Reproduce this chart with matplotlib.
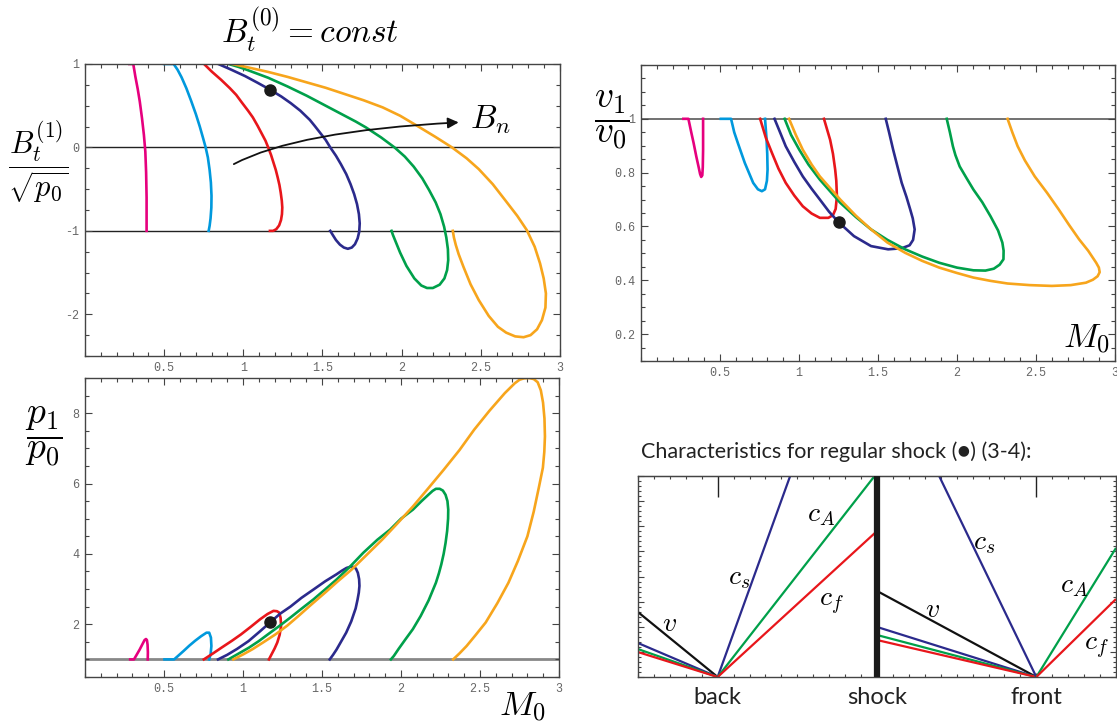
import matplotlib
matplotlib.use('Agg')
import matplotlib.pyplot as plt
from matplotlib.ticker import MultipleLocator, FixedLocator, FixedFormatter, NullFormatter

plt.rcParams['mathtext.fontset'] = 'cm'
plt.rcParams['axes.unicode_minus'] = False

# ---------------- colours of the six curves ----------------
curve_names = ['magenta', 'lightblue', 'red', 'navy', 'green', 'orange']
curve_colors = ['#e6007e', '#0099dd', '#e8161b', '#2b2a8c', '#00a04a', '#f7a51c']

# ---------------- panel 1 : B_t^(1)/sqrt(p0) vs M0 ----------------
bt_magenta = [(0.28, 1.0), (0.305, 1.0), (0.318, 0.85), (0.333, 0.7), (0.346, 0.55), (0.360, 0.35),
              (0.372, 0.15), (0.381, -0.05), (0.386, -0.3), (0.389, -0.6), (0.389, -1.0)]
bt_lightblue = [(0.50, 1.0), (0.56, 1.0), (0.585, 0.93), (0.61, 0.84), (0.64, 0.71), (0.67, 0.56),
                (0.70, 0.40), (0.725, 0.25), (0.746, 0.11), (0.762, 0.0), (0.776, -0.12),
                (0.787, -0.27), (0.795, -0.42), (0.799, -0.58), (0.798, -0.72), (0.793, -0.85),
                (0.787, -0.94), (0.781, -1.0)]
bt_red = [(0.752, 1.0), (0.80, 0.91), (0.86, 0.81), (0.915, 0.71), (0.955, 0.63), (0.99, 0.54),
          (1.03, 0.44), (1.06, 0.36), (1.09, 0.26), (1.115, 0.17), (1.14, 0.08), (1.157, 0.0),
          (1.175, -0.09), (1.19, -0.18), (1.205, -0.27), (1.217, -0.36), (1.228, -0.45),
          (1.236, -0.54), (1.243, -0.64), (1.246, -0.72), (1.244, -0.80), (1.238, -0.87),
          (1.226, -0.935), (1.208, -0.98), (1.188, -1.0), (1.168, -1.0)]
bt_navy = [(0.842, 1.0), (0.92, 0.935), (1.011, 0.855), (1.09, 0.775), (1.171, 0.69), (1.24, 0.61),
           (1.30, 0.53), (1.36, 0.44), (1.42, 0.33), (1.45, 0.26), (1.483, 0.18), (1.52, 0.09),
           (1.549, 0.0), (1.585, -0.10), (1.616, -0.20), (1.65, -0.32), (1.677, -0.44),
           (1.70, -0.56), (1.718, -0.68), (1.73, -0.80), (1.735, -0.91), (1.732, -1.01),
           (1.722, -1.09), (1.705, -1.16), (1.685, -1.20), (1.66, -1.215), (1.635, -1.20),
           (1.61, -1.165), (1.585, -1.11), (1.565, -1.05), (1.549, -1.0)]
bt_green = [(0.907, 1.0), (0.97, 0.965), (1.03, 0.925), (1.157, 0.835), (1.28, 0.73), (1.40, 0.62),
            (1.52, 0.50), (1.64, 0.38), (1.71, 0.31), (1.774, 0.24), (1.87, 0.12), (1.955, 0.0),
            (2.02, -0.11), (2.076, -0.23), (2.13, -0.37), (2.173, -0.51), (2.215, -0.66),
            (2.245, -0.80), (2.268, -0.95), (2.282, -1.08), (2.292, -1.22), (2.294, -1.35),
            (2.287, -1.47), (2.27, -1.57), (2.24, -1.645), (2.197, -1.685), (2.16, -1.685),
            (2.124, -1.655), (2.08, -1.57), (2.03, -1.42), (1.99, -1.26), (1.96, -1.12),
            (1.945, -1.05), (1.936, -1.0)]
bt_orange = [(0.93, 1.0), (1.04, 0.955), (1.157, 0.905), (1.28, 0.845), (1.40, 0.78), (1.52, 0.715),
             (1.64, 0.64), (1.76, 0.565), (1.88, 0.48), (1.99, 0.38), (2.088, 0.27), (2.21, 0.13),
             (2.318, 0.0), (2.41, -0.13), (2.487, -0.26), (2.575, -0.44), (2.657, -0.64),
             (2.73, -0.82), (2.79, -0.99), (2.84, -1.19), (2.874, -1.39), (2.897, -1.57),
             (2.911, -1.75), (2.908, -1.92), (2.886, -2.07), (2.855, -2.18), (2.814, -2.25),
             (2.77, -2.275), (2.717, -2.265), (2.66, -2.22), (2.608, -2.15), (2.55, -2.02),
             (2.487, -1.83), (2.435, -1.64), (2.39, -1.43), (2.36, -1.28), (2.342, -1.17),
             (2.33, -1.08), (2.323, -1.0)]
bt_curves = [bt_magenta, bt_lightblue, bt_red, bt_navy, bt_green, bt_orange]
bt_hlines = [0, -1]
bt_dot = (1.171, 0.69)

# ---------------- panel 2 : v1/v0 vs M0 ----------------
v_magenta = [(0.268, 1.0), (0.30, 1.0), (0.318, 0.95), (0.333, 0.91), (0.350, 0.86), (0.365, 0.82),
             (0.374, 0.795), (0.381, 0.784), (0.388, 0.79), (0.391, 0.82), (0.393, 0.885), (0.393, 1.0)]
v_lightblue = [(0.505, 1.0), (0.57, 1.0), (0.59, 0.95), (0.613, 0.91), (0.657, 0.836), (0.71, 0.762),
               (0.74, 0.738), (0.765, 0.731), (0.785, 0.738), (0.797, 0.77), (0.801, 0.811),
               (0.799, 0.87), (0.794, 0.93), (0.785, 1.0)]
v_red = [(0.754, 1.0), (0.79, 0.93), (0.829, 0.873), (0.87, 0.815), (0.916, 0.762), (0.97, 0.715),
         (1.024, 0.675), (1.08, 0.648), (1.132, 0.632), (1.186, 0.632), (1.215, 0.642),
         (1.232, 0.665), (1.24, 0.712), (1.236, 0.77), (1.229, 0.811), (1.215, 0.87),
         (1.197, 0.922), (1.158, 1.0)]
v_navy = [(0.845, 1.0), (0.88, 0.95), (0.916, 0.898), (0.97, 0.84), (1.024, 0.786), (1.08, 0.74),
          (1.132, 0.70), (1.19, 0.655), (1.25, 0.616), (1.348, 0.564), (1.456, 0.527),
          (1.564, 0.515), (1.65, 0.519), (1.70, 0.53), (1.722, 0.55), (1.732, 0.589), (1.72, 0.63),
          (1.704, 0.663), (1.68, 0.71), (1.65, 0.762), (1.62, 0.83), (1.596, 0.885), (1.57, 0.95),
          (1.549, 1.0)]
v_green = [(0.909, 1.0), (0.95, 0.94), (1.002, 0.885), (1.06, 0.83), (1.132, 0.774), (1.261, 0.688),
           (1.36, 0.635), (1.456, 0.589), (1.56, 0.55), (1.672, 0.515), (1.78, 0.488), (1.888, 0.465),
           (2.0, 0.447), (2.104, 0.437), (2.18, 0.436), (2.233, 0.443), (2.27, 0.458), (2.294, 0.478),
           (2.295, 0.51), (2.287, 0.54), (2.26, 0.585), (2.212, 0.638), (2.16, 0.69), (2.104, 0.737),
           (2.06, 0.78), (2.017, 0.823), (1.99, 0.865), (1.974, 0.898), (1.955, 0.95), (1.935, 1.0)]
v_orange = [(0.937, 1.0), (0.98, 0.94), (1.024, 0.885), (1.08, 0.83), (1.132, 0.786), (1.261, 0.70),
            (1.36, 0.64), (1.456, 0.589), (1.56, 0.54), (1.672, 0.502), (1.78, 0.472), (1.888, 0.447),
            (2.0, 0.427), (2.104, 0.41), (2.21, 0.398), (2.32, 0.388), (2.46, 0.382), (2.60, 0.379),
            (2.72, 0.382), (2.816, 0.391), (2.86, 0.402), (2.89, 0.415), (2.903, 0.43), (2.898, 0.447),
            (2.881, 0.465), (2.83, 0.51), (2.773, 0.552), (2.71, 0.605), (2.644, 0.663), (2.57, 0.725),
            (2.492, 0.786), (2.43, 0.845), (2.384, 0.898), (2.35, 0.95), (2.32, 1.0)]
v_curves = [v_magenta, v_lightblue, v_red, v_navy, v_green, v_orange]
v_hline = 1.0
v_dot = (1.25, 0.616)

# ---------------- panel 3 : p1/p0 vs M0 ----------------
p_magenta = [(0.286, 1.0), (0.31, 1.0), (0.328, 1.14), (0.346, 1.28), (0.362, 1.42), (0.377, 1.55),
             (0.386, 1.58), (0.392, 1.55), (0.396, 1.42), (0.398, 1.2), (0.397, 1.0)]
p_lightblue = [(0.503, 1.0), (0.564, 1.0), (0.594, 1.12), (0.624, 1.24), (0.66, 1.39), (0.697, 1.53),
               (0.735, 1.66), (0.769, 1.76), (0.786, 1.76), (0.797, 1.62), (0.80, 1.38),
               (0.795, 1.15), (0.786, 1.0)]
p_red = [(0.752, 1.0), (0.81, 1.17), (0.866, 1.34), (0.93, 1.53), (0.987, 1.71), (1.05, 1.93),
         (1.108, 2.14), (1.155, 2.29), (1.193, 2.38), (1.215, 2.37), (1.229, 2.33), (1.238, 2.18),
         (1.241, 1.95), (1.232, 1.70), (1.217, 1.48), (1.2, 1.31), (1.186, 1.19), (1.164, 1.0)]
p_navy = [(0.842, 1.0), (0.90, 1.13), (0.963, 1.30), (1.035, 1.52), (1.108, 1.80), (1.171, 2.05),
          (1.235, 2.30), (1.30, 2.50), (1.37, 2.75), (1.447, 2.99), (1.52, 3.22), (1.592, 3.42),
          (1.625, 3.52), (1.655, 3.60), (1.677, 3.63), (1.70, 3.63), (1.715, 3.58), (1.727, 3.46),
          (1.735, 3.28), (1.737, 3.09), (1.733, 2.90), (1.725, 2.70), (1.713, 2.45), (1.685, 2.08),
          (1.653, 1.76), (1.62, 1.50), (1.592, 1.28), (1.57, 1.13), (1.549, 1.0)]
p_green = [(0.907, 1.0), (0.97, 1.16), (1.036, 1.33), (1.10, 1.52), (1.157, 1.71), (1.23, 1.95),
           (1.30, 2.19), (1.37, 2.44), (1.447, 2.71), (1.52, 2.99), (1.592, 3.27), (1.68, 3.65),
           (1.761, 4.03), (1.85, 4.40), (1.931, 4.69), (2.00, 5.00), (2.076, 5.26), (2.13, 5.50),
           (2.173, 5.68), (2.20, 5.79), (2.221, 5.85), (2.245, 5.85), (2.265, 5.80), (2.282, 5.68),
           (2.294, 5.50), (2.299, 5.26), (2.298, 5.0), (2.292, 4.65), (2.282, 4.31), (2.27, 4.0),
           (2.255, 3.70), (2.24, 3.45), (2.221, 3.18), (2.175, 2.68), (2.124, 2.23), (2.075, 1.86),
           (2.028, 1.57), (1.985, 1.30), (1.955, 1.10), (1.936, 1.0)]
p_orange = [(0.939, 1.0), (1.0, 1.14), (1.06, 1.29), (1.13, 1.49), (1.205, 1.71), (1.28, 1.96),
            (1.35, 2.23), (1.43, 2.55), (1.52, 2.90), (1.60, 3.22), (1.689, 3.56), (1.78, 3.96),
            (1.882, 4.41), (1.98, 4.88), (2.076, 5.35), (2.17, 5.85), (2.27, 6.39), (2.37, 6.95),
            (2.463, 7.53), (2.56, 8.07), (2.657, 8.57), (2.72, 8.85), (2.75, 8.95), (2.778, 8.99),
            (2.81, 9.0), (2.84, 8.97), (2.865, 8.88), (2.885, 8.65), (2.899, 8.3), (2.908, 7.85),
            (2.911, 7.34), (2.907, 6.9), (2.898, 6.45), (2.874, 5.92), (2.84, 5.2), (2.80, 4.50),
            (2.74, 3.80), (2.68, 3.18), (2.61, 2.60), (2.536, 2.05), (2.47, 1.68), (2.415, 1.38),
            (2.37, 1.17), (2.33, 1.0)]
p_curves = [p_magenta, p_lightblue, p_red, p_navy, p_green, p_orange]
p_hline = 1.0
p_dot = (1.171, 2.05)

# ---------------- panel 4 : characteristics ----------------
char_tick_pos = [1, 3, 5]
char_tick_labels = ['back', 'shock', 'front']
shock_x = 3
char_lines = [
    ((0, 0.323), (1, 0.0), '#111111'),
    ((0, 0.169), (1, 0.0), '#2b2a8c'),
    ((0, 0.139), (1, 0.0), '#00a04a'),
    ((0, 0.124), (1, 0.0), '#e8161b'),
    ((1, 0.0), (1.91, 1.0), '#2b2a8c'),
    ((1, 0.0), (2.97, 1.0), '#00a04a'),
    ((1, 0.0), (3.0, 0.726), '#e8161b'),
    ((3, 0.428), (5, 0.0), '#111111'),
    ((3, 0.249), (5, 0.0), '#2b2a8c'),
    ((3, 0.209), (5, 0.0), '#00a04a'),
    ((3, 0.184), (5, 0.0), '#e8161b'),
    ((3.78, 1.0), (5, 0.0), '#2b2a8c'),
    ((5, 0.0), (6, 0.642), '#00a04a'),
    ((5, 0.0), (6, 0.388), '#e8161b'),
]
char_labels = [(r'$v$', 0.40, 0.27), (r'$c_s$', 1.27, 0.50), (r'$c_A$', 2.30, 0.81),
               (r'$c_f$', 2.43, 0.37), (r'$c_s$', 4.35, 0.67), (r'$v$', 3.70, 0.34),
               (r'$c_A$', 5.47, 0.46), (r'$c_f$', 5.75, 0.15)]

# ---------------- figure ----------------
W, H = 1117, 724
fig = plt.figure(figsize=(W / 100, H / 100), dpi=100)


def box(l, t, r, b):
    return [l / W, 1 - b / H, (r - l) / W, (b - t) / H]


frame_col = '#444444'
lab_col = '#666666'
mono = 'Liberation Mono'
LW = 1.9


def style(ax, xmaj, xlabels, ymaj, ylabels, xminor, yminor):
    for s in ax.spines.values():
        s.set_color(frame_col)
        s.set_linewidth(1.0)
    ax.xaxis.set_major_locator(FixedLocator(xmaj))
    ax.xaxis.set_major_formatter(FixedFormatter(xlabels))
    ax.yaxis.set_major_locator(FixedLocator(ymaj))
    ax.yaxis.set_major_formatter(FixedFormatter(ylabels))
    ax.xaxis.set_minor_locator(MultipleLocator(xminor))
    ax.yaxis.set_minor_locator(MultipleLocator(yminor))
    ax.tick_params(which='both', direction='in', top=True, right=True, color=frame_col,
                   labelcolor=lab_col, labelsize=8.5, width=0.8)
    ax.tick_params(which='major', length=5, pad=4)
    ax.tick_params(which='minor', length=3)
    for lab in ax.get_xticklabels() + ax.get_yticklabels():
        lab.set_fontfamily(mono)


def draw_curves(ax, curves):
    for c, col in zip(curves, curve_colors):
        ax.plot([q[0] for q in c], [q[1] for q in c], color=col, lw=LW,
                solid_joinstyle='round', zorder=2)


xt = [0.5, 1, 1.5, 2, 2.5, 3]
xtl = ['0.5', '1', '1.5', '2', '2.5', '3']

# panel 1
ax1 = fig.add_axes(box(85, 64, 560, 356))
ax1.set_xlim(0, 3)
ax1.set_ylim(-2.5, 1)
for yv in bt_hlines:
    ax1.axhline(yv, color='#222222', lw=1.0, zorder=1)
draw_curves(ax1, bt_curves)
ax1.plot([bt_dot[0]], [bt_dot[1]], 'o', color='#1a1a1a', ms=8, zorder=5)
style(ax1, xt, xtl, [-2, -1, 0, 1], ['-2', '-1', '0', '1'], 0.1, 0.25)
ax1.annotate('', xy=(2.36, 0.30), xytext=(0.94, -0.20),
             arrowprops=dict(arrowstyle='-|>', color='#111111', lw=1.3, mutation_scale=16,
                             shrinkA=0, shrinkB=0,
                             connectionstyle='angle3,angleA=28,angleB=3'))
ax1.text(2.43, 0.33, r'$B_n$', fontsize=24, va='center', ha='left')

# panel 2
ax2 = fig.add_axes(box(641, 65, 1115, 361))
ax2.set_xlim(0, 3)
ax2.set_ylim(0.1, 1.2)
ax2.axhline(v_hline, color='#666666', lw=1.3, zorder=1)
draw_curves(ax2, v_curves)
ax2.plot([v_dot[0]], [v_dot[1]], 'o', color='#1a1a1a', ms=8, zorder=5)
style(ax2, xt, xtl, [0.2, 0.4, 0.6, 0.8, 1.0], ['0.2', '0.4', '0.6', '0.8', '1'], 0.1, 0.05)
ax2.text(2.97, 0.12, r'$M_0$', fontsize=25, ha='right', va='bottom')

# panel 3
ax3 = fig.add_axes(box(85, 378, 559, 677))
ax3.set_xlim(0, 3)
ax3.set_ylim(0.5, 9)
ax3.axhline(p_hline, color='#888888', lw=2.0, zorder=1)
draw_curves(ax3, p_curves)
ax3.plot([p_dot[0]], [p_dot[1]], 'o', color='#1a1a1a', ms=8, zorder=5)
style(ax3, xt, xtl, [2, 4, 6, 8], ['2', '4', '6', '8'], 0.1, 0.5)

# panel 4
ax4 = fig.add_axes(box(638, 476, 1116, 677))
ax4.set_xlim(0, 6)
ax4.set_ylim(0, 1)
for (p0, p1, col) in char_lines:
    ax4.plot([p0[0], p1[0]], [p0[1], p1[1]], color=col, lw=1.6, solid_capstyle='butt', zorder=2)
ax4.axvline(shock_x, color='#1a1a1a', lw=4.5, zorder=4)
for (t, x, y) in char_labels:
    ax4.text(x, y, t, fontsize=20, ha='center', va='center')
for s in ax4.spines.values():
    s.set_color(frame_col)
    s.set_linewidth(1.0)
ax4.xaxis.set_major_locator(FixedLocator(char_tick_pos))
ax4.xaxis.set_major_formatter(FixedFormatter(char_tick_labels))
ax4.xaxis.set_minor_locator(MultipleLocator(0.2))
ax4.yaxis.set_major_locator(MultipleLocator(0.125))
ax4.yaxis.set_minor_locator(MultipleLocator(0.025))
ax4.yaxis.set_major_formatter(NullFormatter())
ax4.tick_params(which='both', direction='in', top=False, right=True, color=frame_col, width=0.8)
ax4.tick_params(axis='x', which='major', length=3, pad=7, labelsize=17, labelcolor='#222222')
ax4.tick_params(axis='y', which='major', length=4)
ax4.tick_params(which='minor', length=2.5)
for lab in ax4.get_xticklabels():
    lab.set_fontfamily('Lato')
sec = ax4.secondary_xaxis('top')
sec.xaxis.set_major_locator(FixedLocator([char_tick_pos[0], char_tick_pos[2]]))
sec.xaxis.set_major_formatter(NullFormatter())
sec.xaxis.set_minor_locator(MultipleLocator(0.2))
sec.tick_params(which='major', direction='in', length=15, width=1.0, color='#222222')
sec.tick_params(which='minor', direction='in', length=2.5, width=0.8, color=frame_col)
sec.spines['top'].set_color(frame_col)

# figure texts
fig.text(310 / W, 1 - 30 / H, r'$B_t^{(0)} = const$', fontsize=24, ha='center', va='center')
fig.text(38 / W, 1 - 162 / H, r'$\dfrac{B_t^{(1)}}{\sqrt{p_0}}$', fontsize=22, ha='center', va='center')
fig.text(612 / W, 1 - 120 / H, r'$\dfrac{v_1}{v_0}$', fontsize=27, ha='center', va='center')
fig.text(44 / W, 1 - 436 / H, r'$\dfrac{p_1}{p_0}$', fontsize=27, ha='center', va='center')
fig.text(522 / W, 1 - 707 / H, r'$M_0$', fontsize=25, ha='center', va='center')
fig.text(641 / W, 1 - 452 / H, 'Characteristics for regular shock (\u25cf) (3-4):',
         fontsize=15.5, ha='left', va='center', family=['Lato', 'DejaVu Sans'],
         color='#222222')

fig.savefig('out.png', dpi=100)
